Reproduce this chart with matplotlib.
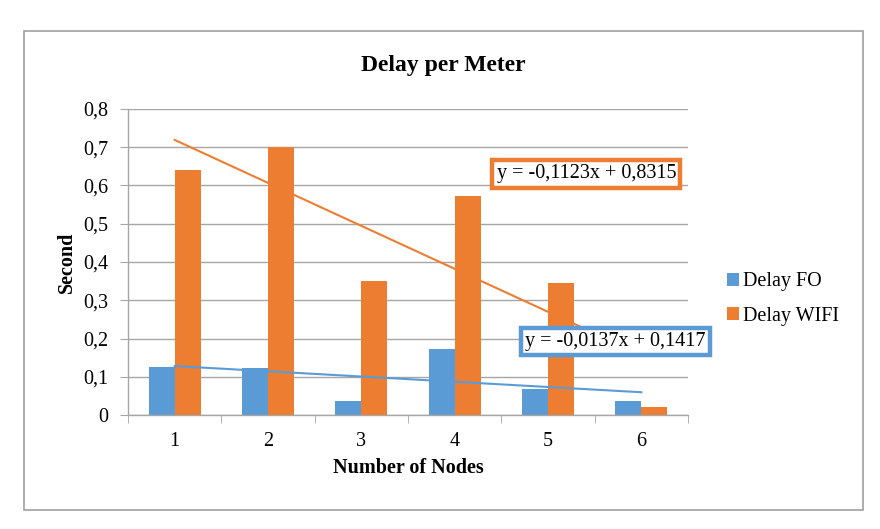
import numpy as np
import matplotlib.pyplot as plt
from matplotlib.patches import Rectangle
from matplotlib.ticker import FuncFormatter

plt.rcParams['font.family'] = ['Liberation Serif', 'DejaVu Serif']

nodes = [1, 2, 3, 4, 5, 6]
delay_fo = [0.126, 0.124, 0.036, 0.1725, 0.067, 0.037]
delay_wifi = [0.640, 0.700, 0.350, 0.573, 0.345, 0.022]

c_fo = "#5B9BD5"
c_wifi = "#ED7D31"
grey = "#a6a6a6"
fs = 14.5

fig = plt.figure(figsize=(8.8, 5.29), dpi=100)
ax = fig.add_axes([128/880, 1-415/529, 560/880, 306/529])

x = np.asarray(nodes, dtype=float)
w = 0.28
ax.bar(x - w/2, delay_fo, w, color=c_fo, label="Delay FO", zorder=2)
ax.bar(x + w/2, delay_wifi, w, color=c_wifi, label="Delay WIFI", zorder=2)

# linear trend lines, fitted on the data
m_fo, b_fo = np.polyfit(x, delay_fo, 1)
m_wi, b_wi = np.polyfit(x, delay_wifi, 1)
ax.plot(x, m_wi*x + b_wi, color=c_wifi, lw=1.5, zorder=3)
ax.plot(x, m_fo*x + b_fo, color=c_fo, lw=1.5, zorder=3)

def eq(m, b):
    s = "y = %.4fx + %.4f" % (m, b)
    return s.replace(".", ",")

ax.text(5.41, 0.631, eq(m_wi, b_wi), ha="center", va="center", fontsize=fs, zorder=5,
        bbox=dict(boxstyle="square,pad=0.22", fc="white", ec=c_wifi, lw=3.2))
ax.text(5.72, 0.192, eq(m_fo, b_fo), ha="center", va="center", fontsize=fs, zorder=5,
        bbox=dict(boxstyle="square,pad=0.22", fc="white", ec=c_fo, lw=3.2))

ax.set_xlim(0.5, 6.5)
ax.set_ylim(0, 0.8)
ax.set_yticks(np.arange(0, 0.81, 0.1))
ax.yaxis.set_major_formatter(FuncFormatter(lambda v, p: ("%.1f" % v).replace(".", ",") if v > 1e-9 else "0"))
ax.set_xticks(nodes)
ax.set_xticks(np.arange(0.5, 6.6, 1), minor=True)
ax.tick_params(axis="x", which="major", length=0, labelsize=fs, pad=12)
ax.tick_params(axis="x", which="minor", length=6, color=grey, direction="out")
ax.tick_params(axis="y", length=6, color=grey, labelsize=fs, pad=8)
ax.grid(axis="y", color=grey, lw=1, zorder=0)
ax.set_axisbelow(True)
for s in ["top", "right"]:
    ax.spines[s].set_visible(False)
for s in ["left", "bottom"]:
    ax.spines[s].set_color(grey)
    ax.spines[s].set_linewidth(1)

fig.text(443.5/880, 1-65/529, "Delay per Meter", fontsize=17, fontweight="bold", ha="center", va="center")
fig.text(408/880, 1-468/529, "Number of Nodes", fontsize=fs, fontweight="bold", ha="center", va="center")
fig.text(67/880, 1-262/529, "Second", fontsize=fs, fontweight="bold", ha="center", va="center", rotation=90)

ax.legend(loc="center left", bbox_to_anchor=(717/880, 1-299/529), bbox_transform=fig.transFigure,
          frameon=False, fontsize=fs, borderpad=0, handlelength=0.6, handleheight=0.6,
          handletextpad=0.2, labelspacing=0.75)

fig.patches.append(Rectangle((24/880, 1-510/529), 839/880, 479/529, transform=fig.transFigure,
                             fill=False, ec="#a0a0a0", lw=1.2))

fig.savefig("out.png", dpi=100)
